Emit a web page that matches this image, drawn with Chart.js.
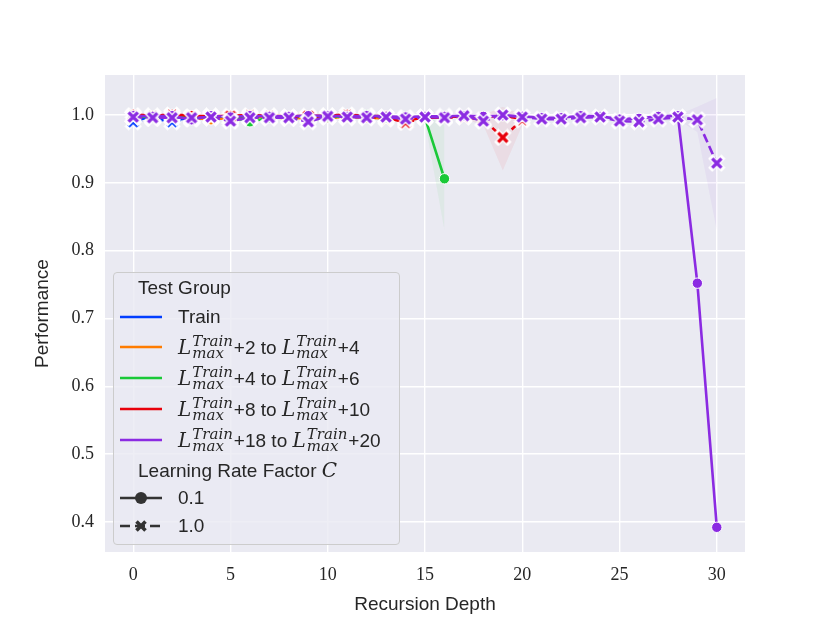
<!DOCTYPE html>
<html><head><meta charset="utf-8">
<script src="https://cdn.jsdelivr.net/npm/chart.js@4/dist/chart.umd.min.js"></script>
<style>
html,body{margin:0;padding:0;background:#fff;}
#wrap{position:relative;width:830px;height:623px;overflow:hidden;}
#c{position:absolute;left:0;top:0;}
#legend{position:absolute;left:113px;top:272px;width:287px;height:273px;box-sizing:border-box;border:1px solid #cccccc;border-radius:4px;background:rgba(234,234,242,0.8);font-family:"Liberation Sans",Arial,sans-serif;font-size:19px;color:#262626;}
.row{position:absolute;left:0;height:30px;line-height:30px;white-space:nowrap;}
.row svg{position:absolute;left:6px;top:0;}
.row .t{position:absolute;left:64px;top:0;}
.ttl{left:24px;}
.L{font-family:"DejaVu Serif",serif;font-style:italic;font-size:20px;}
.ss{display:inline-block;vertical-align:-4px;line-height:12px;font-family:"DejaVu Serif",serif;font-style:italic;font-size:15px;margin-left:1px;margin-right:1px;}
.ss span{display:block;}
</style></head>
<body>
<div id="wrap">
<canvas id="c" width="830" height="623"></canvas>
<div id="legend"></div>
</div>
<script>
// ---------- data ----------
const xTicks = [0, 5, 10, 15, 20, 25, 30];
const xTickLabels = ["0", "5", "10", "15", "20", "25", "30"];
const yTicks = [0.4, 0.5, 0.6, 0.7, 0.8, 0.9, 1.0];
const yTickLabels = ["0.4", "0.5", "0.6", "0.7", "0.8", "0.9", "1.0"];

const groupNames = ["Train", "+2 to +4", "+4 to +6", "+8 to +10", "+18 to +20"];
const groupColors = ["#023eff", "#ff7c00", "#1ac938", "#e8000b", "#8b2be2"];

const depthTrain = [0,1,2,3,4,5,6,7,8,9,10];
const depthOrange = [0,1,2,3,4,5,6,7,8,9,10,11,12,13,14];
const depthGreen = [0,1,2,3,4,5,6,7,8,9,10,11,12,13,14,15,16];
const depthRed = [0,1,2,3,4,5,6,7,8,9,10,11,12,13,14,15,16,17,18,19,20];
const depthPurple = [0,1,2,3,4,5,6,7,8,9,10,11,12,13,14,15,16,17,18,19,20,21,22,23,24,25,26,27,28,29,30];

const trainC01 = [0.992,0.997,0.992,0.996,0.997,0.996,0.998,0.997,0.998,0.996,0.998];
const trainC10 = [0.990,0.995,0.990,0.994,0.996,0.995,0.997,0.996,0.997,0.995,0.997];
const orangeC01 = [0.998,0.997,0.997,0.996,0.993,0.996,0.997,0.997,0.996,0.995,0.996,0.997,0.996,0.995,0.994];
const orangeC10 = [0.997,0.996,0.998,0.995,0.996,0.994,0.996,0.997,0.995,0.996,0.997,0.996,0.997,0.994,0.992];
const greenC01 = [0.998,0.997,0.998,0.996,0.998,0.997,0.990,0.996,0.997,0.998,0.997,0.998,1.000,0.996,0.995,0.996,0.906];
const greenC10 = [0.997,0.998,0.997,0.997,0.998,0.996,0.997,0.998,0.996,0.997,0.998,0.997,0.999,0.997,0.996,0.997,0.998];
const redC01 = [1.001,0.999,1.001,0.999,0.998,0.999,1.000,0.999,0.998,0.999,0.999,1.001,0.998,0.999,0.991,0.997,0.997,0.998,0.997,0.999,0.994];
const redC10 = [0.999,0.998,1.000,0.997,0.998,0.998,0.999,0.998,0.997,0.998,0.998,1.000,0.997,0.996,0.989,0.996,0.996,0.997,0.993,0.967,0.993];
const purpleC01 = [0.999,0.998,0.999,0.993,0.999,0.997,0.999,0.998,0.998,0.999,0.999,0.998,0.999,0.998,0.997,0.998,0.998,0.999,0.998,0.999,0.998,0.996,0.996,0.999,0.998,0.994,0.995,0.998,0.999,0.752,0.392];
const purpleC10 = [0.997,0.996,0.996,0.996,0.997,0.991,0.996,0.996,0.996,0.990,0.998,0.997,0.996,0.997,0.994,0.997,0.996,0.999,0.991,1.000,0.997,0.994,0.994,0.996,0.997,0.991,0.990,0.994,0.997,0.993,0.929];

// confidence bands (lower / upper)
const greenBandX = [15, 16];
const greenBandLo = [0.990, 0.830];
const greenBandHi = [1.000, 0.985];
const redBandX = [17, 18, 19, 20];
const redBandLo = [0.994, 0.985, 0.918, 0.985];
const redBandHi = [0.999, 1.000, 1.012, 1.000];
const purpleBandX = [27, 28, 29, 30];
const purpleBandLo = [0.990, 0.993, 0.975, 0.830];
const purpleBandHi = [0.998, 1.000, 1.012, 1.025];

// ---------- helpers ----------
function pts(xs, ys){ return xs.map((x,i)=>({x:x, y:ys[i]})); }
function rgba(hex, a){ const n=parseInt(hex.slice(1),16); return `rgba(${n>>16},${(n>>8)&255},${n&255},${a})`; }
function makeX(color){
  const c=document.createElement('canvas'); c.width=c.height=18;
  const g=c.getContext('2d'); g.translate(9,9);
  const d=4.6;
  const draw=()=>{g.beginPath();g.moveTo(-d,-d);g.lineTo(d,d);g.moveTo(-d,d);g.lineTo(d,-d);g.stroke();};
  g.strokeStyle='#ffffff'; g.lineWidth=5.8; g.lineCap='square'; draw();
  g.strokeStyle=color; g.lineWidth=3.4; g.lineCap='butt'; draw();
  return c;
}
function lineDs(xs, ys, color, dashed){
  return {
    data: pts(xs, ys), borderColor: color, borderWidth: 2.6, borderDash: dashed ? [9,4] : [],
    pointStyle: dashed ? makeX(color) : 'circle', pointRadius: 5.2, pointBackgroundColor: color,
    pointBorderColor: '#ffffff', pointBorderWidth: 1, fill: false, tension: 0
  };
}

const colors = groupColors;
const datasets = [
  lineDs(depthPurple, purpleC10, colors[4], true),
  lineDs(depthPurple, purpleC01, colors[4], false),
  lineDs(depthRed, redC10, colors[3], true),
  lineDs(depthRed, redC01, colors[3], false),
  lineDs(depthGreen, greenC10, colors[2], true),
  lineDs(depthGreen, greenC01, colors[2], false),
  lineDs(depthOrange, orangeC10, colors[1], true),
  lineDs(depthOrange, orangeC01, colors[1], false),
  lineDs(depthTrain, trainC10, colors[0], true),
  lineDs(depthTrain, trainC01, colors[0], false)
];
function addBand(xs, lo, hi, color){
  const loIdx = datasets.length;
  datasets.push({data: pts(xs, lo), borderWidth:0, pointRadius:0, fill:false, borderColor:'rgba(0,0,0,0)'});
  datasets.push({data: pts(xs, hi), borderWidth:0, pointRadius:0, fill:{target: loIdx}, backgroundColor: rgba(color, 0.06), borderColor:'rgba(0,0,0,0)'});
}
addBand(greenBandX, greenBandLo, greenBandHi, colors[2]);
addBand(redBandX, redBandLo, redBandHi, colors[3]);
addBand(purpleBandX, purpleBandLo, purpleBandHi, colors[4]);

const bgPlugin = {
  id:'bg',
  beforeDraw(chart){
    const {ctx, chartArea:a} = chart;
    ctx.save(); ctx.fillStyle='#eaeaf2'; ctx.fillRect(a.left, a.top, a.right-a.left, a.bottom-a.top); ctx.restore();
  }
};

const tickFont = {family:'"Liberation Serif", "DejaVu Serif", serif', size:18};
const titleFont = {family:'"Liberation Sans", Arial, sans-serif', size:19};

new Chart(document.getElementById('c'), {
  type:'line',
  data:{datasets},
  options:{
    responsive:false, animation:false, devicePixelRatio:1,
    layout:{padding:{left:0, right:85, top:75, bottom:0}},
    plugins:{legend:{display:false}, tooltip:{enabled:false}, filler:{drawTime:'beforeDatasetsDraw'}},
    scales:{
      x:{type:'linear', min:-1.45, max:31.45,
        afterBuildTicks:s=>{s.ticks = xTicks.map(v=>({value:v}));},
        afterFit:s=>{s.height = 71;},
        grid:{color:'#ffffff', lineWidth:1.4, drawTicks:false},
        border:{display:false},
        ticks:{padding:12, color:'#262626', font:tickFont, maxRotation:0, autoSkip:false,
          callback:(v,i)=>xTickLabels[i]},
        title:{display:true, text:'Recursion Depth', color:'#262626', font:titleFont, padding:{top:0, bottom:6.6}}
      },
      y:{type:'linear', min:0.3556, max:1.059,
        afterBuildTicks:s=>{s.ticks = yTicks.map(v=>({value:v}));},
        afterFit:s=>{s.width = 105;},
        grid:{color:'#ffffff', lineWidth:1.4, drawTicks:false},
        border:{display:false},
        ticks:{padding:11, color:'#262626', font:tickFont, autoSkip:false,
          callback:(v,i)=>yTickLabels[i]},
        title:{display:true, text:'Performance', color:'#262626', font:titleFont, padding:{top:31.6, bottom:0}}
      }
    }
  },
  plugins:[bgPlugin]
});

// ---------- legend (HTML overlay, real text) ----------
const legend = document.getElementById('legend');
const originY = 273;
function math(){ return '<span class="L">L</span><span class="ss"><span>Train</span><span>max</span></span>'; }
function groupLabel(name){
  if (name === 'Train') return 'Train';
  const m = name.match(/^\+(\d+) to \+(\d+)$/);
  return math() + '+' + m[1] + ' to ' + math() + '+' + m[2];
}
function addRow(cy, svg, html, cls){
  const r = document.createElement('div');
  r.className = 'row' + (cls ? ' ' + cls : '');
  r.style.top = (cy - originY - 15) + 'px';
  if (cls === 'ttl') { r.innerHTML = html; }
  else { r.innerHTML = svg + '<span class="t">' + html + '</span>'; }
  legend.appendChild(r);
}
const rowYs = [317, 347, 378, 409, 440];
addRow(288, '', 'Test Group', 'ttl');
groupNames.forEach((n,i)=>{
  const svg = `<svg width="42" height="30"><line x1="0" y1="15" x2="42" y2="15" stroke="${groupColors[i]}" stroke-width="2.6"/></svg>`;
  addRow(rowYs[i], svg, groupLabel(n));
});
addRow(470, '', 'Learning Rate Factor <span class="L">C</span>', 'ttl');
const cLabels = ["0.1", "1.0"];
addRow(498, `<svg width="42" height="30"><line x1="0" y1="15" x2="42" y2="15" stroke="#333333" stroke-width="2.6"/><circle cx="21" cy="15" r="6" fill="#333333"/></svg>`, cLabels[0]);
addRow(526, `<svg width="42" height="30"><line x1="0" y1="15" x2="42" y2="15" stroke="#333333" stroke-width="2.6" stroke-dasharray="10,5"/><path d="M16.5 10.5 L25.5 19.5 M16.5 19.5 L25.5 10.5" stroke="#333333" stroke-width="3.6"/></svg>`, cLabels[1]);
</script>
</body></html>
